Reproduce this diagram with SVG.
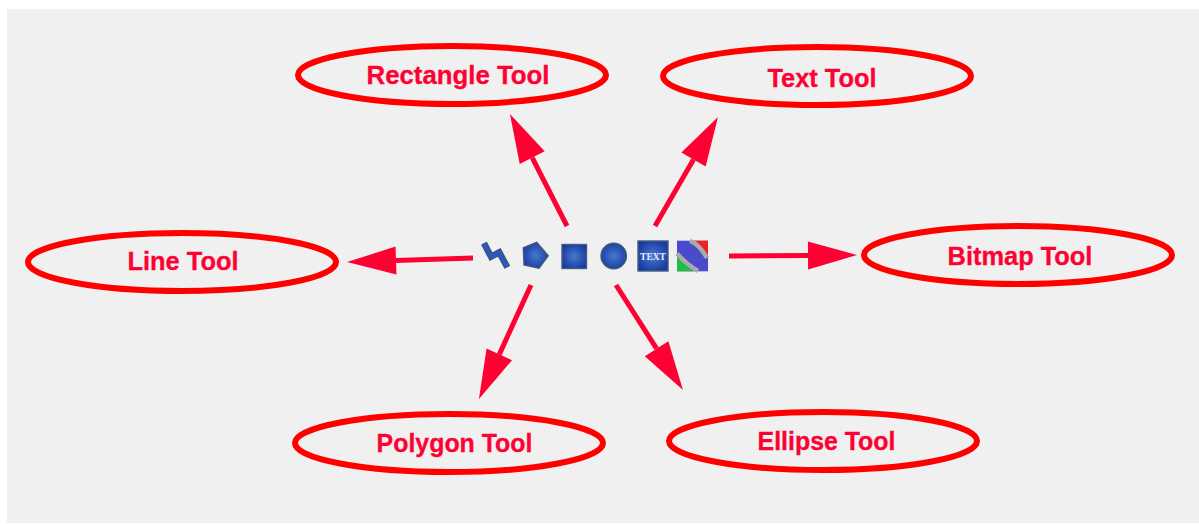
<svg xmlns="http://www.w3.org/2000/svg" width="1199" height="524" viewBox="0 0 1199 524">
<style>
.bubble{fill:none;stroke:#ff0000;stroke-width:6}
.label{font-family:"Liberation Sans",Arial,sans-serif;font-weight:700;font-size:25.400px;fill:#ff0033;stroke:#ff0033;stroke-width:.3;text-anchor:middle}
.conn{stroke:#ff0033;stroke-width:5;fill:none;marker-end:url(#head)}
.icon{fill:url(#blue);stroke:#4a5a7a;stroke-width:1.400}
</style>
<defs>
<marker id="head" markerUnits="userSpaceOnUse" markerWidth="52" markerHeight="30" refX="1" refY="15" orient="auto"><path d="M1,1 L50,15 L1,29 Z" fill="#ff0033"/></marker>
<radialGradient id="blue" cx="50%" cy="50%" r="60%"><stop offset="0" stop-color="#4a78cc"/><stop offset="1" stop-color="#1238a0"/></radialGradient>
</defs>
<rect x="7" y="9" width="1192" height="514" fill="#f0f0f0"/>
<g id="connectors">
<line class="conn" x1="567" y1="226" x2="532.2" y2="157.7"/>
<line class="conn" x1="655" y1="226" x2="693.5" y2="159.4"/>
<line class="conn" x1="473" y1="258" x2="396" y2="260.5"/>
<line class="conn" x1="729" y1="256" x2="808" y2="255.4"/>
<line class="conn" x1="531" y1="285" x2="499.3" y2="354.4"/>
<line class="conn" x1="616" y1="285" x2="656.6" y2="348.7"/>
</g>
<g id="rectangle-tool"><ellipse class="bubble" cx="452" cy="75" rx="154" ry="29"/><text class="label" x="458" y="84" style="font-size:25.800px">Rectangle Tool</text></g>
<g id="text-tool"><ellipse class="bubble" cx="817" cy="76" rx="154" ry="29"/><text class="label" x="822" y="87">Text Tool</text></g>
<g id="line-tool"><ellipse class="bubble" cx="182" cy="262" rx="154" ry="29"/><text class="label" x="183" y="270">Line Tool</text></g>
<g id="bitmap-tool"><ellipse class="bubble" cx="1018" cy="255" rx="154" ry="29"/><text class="label" x="1020" y="265">Bitmap Tool</text></g>
<g id="polygon-tool"><ellipse class="bubble" cx="449" cy="443" rx="154" ry="29"/><text class="label" x="454.500" y="452" style="font-size:24.900px">Polygon Tool</text></g>
<g id="ellipse-tool"><ellipse class="bubble" cx="823" cy="441" rx="154" ry="29"/><text class="label" x="826.500" y="450" style="font-size:24.900px">Ellipse Tool</text></g>
<g id="icon-line"><polyline points="484,243.300 491,256.700 499.300,252.300 507.300,267.300" fill="none" stroke="#3c4f74" stroke-width="6.500"/><polyline points="484,243.300 491,256.700 499.300,252.300 507.300,267.300" fill="none" stroke="#2a5ab4" stroke-width="4.500"/></g>
<g id="icon-polygon"><path class="icon" d="M536.700,242.300 L548.300,255.700 L539,268.300 L524,265 L523.300,247.700 Z"/></g>
<g id="icon-rect"><rect class="icon" x="562" y="244.500" width="24.500" height="24"/></g>
<g id="icon-ellipse"><circle class="icon" cx="613.700" cy="256" r="12.700"/></g>
<g id="icon-text"><rect class="icon" x="638" y="241" width="30" height="30"/><text x="653" y="259.500" font-family="Liberation Serif,serif" font-weight="700" font-size="9.500" fill="#e8eefc" text-anchor="middle">TEXT</text></g>
<g id="icon-bitmap"><rect x="677" y="240.700" width="31" height="30.600" fill="#4a4acc"/><path d="M692,240.700 H708 V257 Z" fill="#ee2222"/><path d="M677,255 V271.300 H693 Z" fill="#22bb44"/><path d="M690,240.700 Q700,245 707,258 M677,253.500 Q686,264 698,271" stroke="#aaaaaa" stroke-width="4.500" fill="none"/></g>
</svg>
